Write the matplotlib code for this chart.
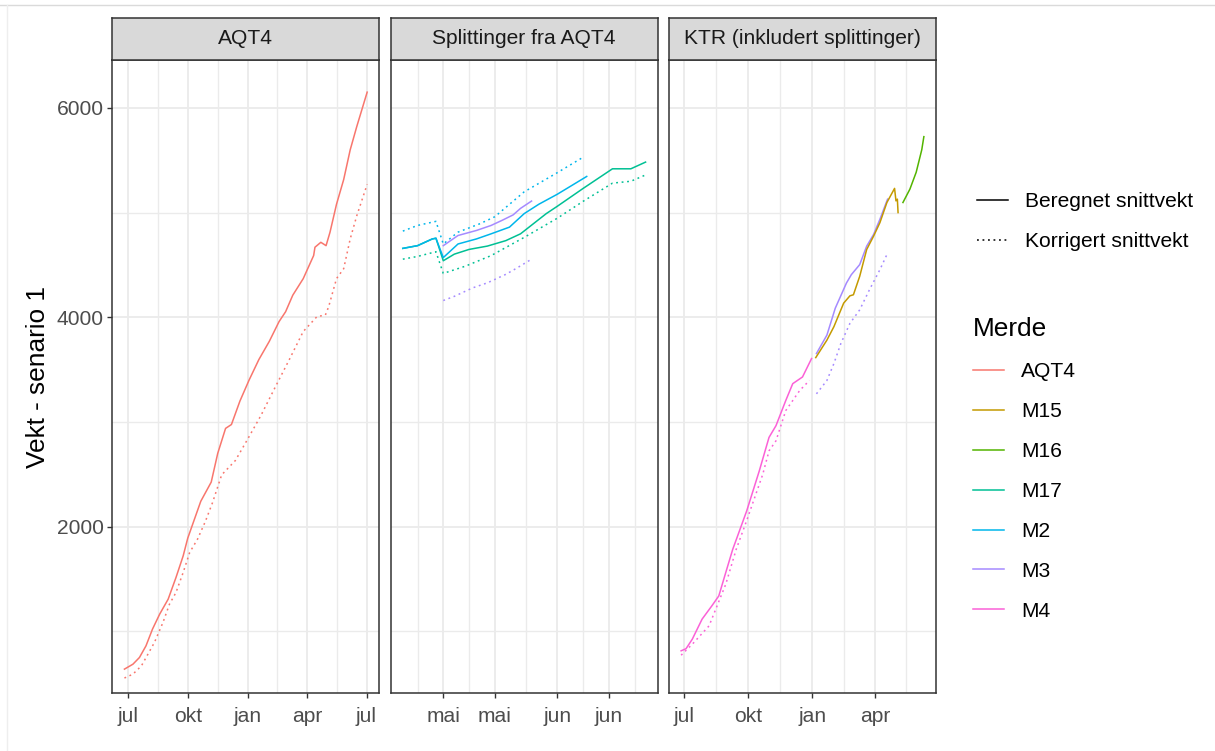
"""
Vekt per merde - facet chart (AQT4 / splittinger / KTR)
"""

import matplotlib
matplotlib.use('Agg')  # Non-interactive backend
import matplotlib.pyplot as plt
import matplotlib.dates as mdates
from matplotlib.lines import Line2D
from matplotlib.ticker import FixedLocator
import pandas as pd

plt.rcParams['font.family'] = ['Liberation Sans', 'DejaVu Sans']

# ---------------- data ----------------
# Panel 1: AQT4
aqt4_ber_dates = ['2019-06-26', '2019-07-09', '2019-07-19', '2019-07-29', '2019-08-08', '2019-08-19',
                  '2019-09-01', '2019-09-13', '2019-09-24', '2019-10-01', '2019-10-21', '2019-11-06',
                  '2019-11-16', '2019-11-28', '2019-12-07', '2019-12-20', '2020-01-03', '2020-01-18',
                  '2020-02-03', '2020-02-18', '2020-02-28', '2020-03-10', '2020-03-26', '2020-04-11',
                  '2020-04-13', '2020-04-22', '2020-04-30', '2020-05-06', '2020-05-16', '2020-05-27',
                  '2020-06-06', '2020-06-16', '2020-07-02']
aqt4_ber_vals = [640, 687, 751, 862, 1022, 1165, 1308, 1515, 1721, 1890, 2243, 2426,
                 2701, 2939, 2976, 3200, 3400, 3596, 3770, 3959, 4053, 4211, 4369, 4590,
                 4669, 4716, 4684, 4811, 5079, 5315, 5599, 5820, 6150]
aqt4_kor_dates = ['2019-06-26', '2019-07-09', '2019-07-22', '2019-08-01', '2019-08-11', '2019-08-24',
                  '2019-09-03', '2019-09-13', '2019-09-24', '2019-10-04', '2019-10-16', '2019-10-28',
                  '2019-11-08', '2019-11-22', '2019-12-13', '2020-01-01', '2020-01-21', '2020-02-13',
                  '2020-03-05', '2020-03-26', '2020-04-16', '2020-04-29', '2020-05-04', '2020-05-16',
                  '2020-05-27', '2020-06-06', '2020-06-16', '2020-07-02']
aqt4_kor_vals = [555, 592, 671, 783, 895, 1085, 1260, 1372, 1563, 1754, 1881, 2050,
                 2230, 2495, 2632, 2838, 3060, 3344, 3600, 3864, 4006, 4022, 4101, 4369,
                 4464, 4748, 4968, 5270]

# Panel 2: splittinger fra AQT4
m2_ber_dates = ['2020-04-20', '2020-04-24', '2020-04-28', '2020-04-29', '2020-05-01', '2020-05-05',
                '2020-05-10', '2020-05-14', '2020-05-19', '2020-05-23', '2020-05-27', '2020-06-01',
                '2020-06-05', '2020-06-09']
m2_ber_vals = [4658, 4684, 4748, 4755, 4570, 4700, 4748, 4797, 4861, 4990, 5080, 5175, 5260, 5345]
m2_kor_dates = ['2020-04-20', '2020-04-24', '2020-04-29', '2020-05-01', '2020-05-05', '2020-05-11',
                '2020-05-15', '2020-05-23', '2020-06-01', '2020-06-08']
m2_kor_vals = [4823, 4877, 4916, 4700, 4813, 4894, 4960, 5198, 5381, 5528]

m17_ber_dates = ['2020-04-20', '2020-04-24', '2020-04-28', '2020-04-29', '2020-05-01', '2020-05-04',
                 '2020-05-08', '2020-05-13', '2020-05-18', '2020-05-22', '2020-05-29', '2020-06-01',
                 '2020-06-08', '2020-06-16', '2020-06-21', '2020-06-25']
m17_ber_vals = [4658, 4684, 4748, 4755, 4540, 4603, 4648, 4680, 4732, 4797, 4990, 5060,
                5230, 5418, 5418, 5482]
m17_kor_dates = ['2020-04-20', '2020-04-24', '2020-04-29', '2020-05-01', '2020-05-07', '2020-05-14',
                 '2020-05-23', '2020-06-01', '2020-06-08', '2020-06-16', '2020-06-21', '2020-06-25']
m17_kor_vals = [4555, 4581, 4626, 4419, 4488, 4589, 4763, 4946, 5107, 5281, 5299, 5359]

m3s_ber_dates = ['2020-05-01', '2020-05-05', '2020-05-10', '2020-05-14', '2020-05-17', '2020-05-20',
                 '2020-05-22', '2020-05-25']
m3s_ber_vals = [4684, 4781, 4829, 4877, 4926, 4978, 5040, 5110]
m3s_kor_dates = ['2020-05-01', '2020-05-04', '2020-05-09', '2020-05-13', '2020-05-18', '2020-05-21',
                 '2020-05-25']
m3s_kor_vals = [4160, 4200, 4281, 4329, 4410, 4470, 4555]

# Panel 3: KTR (inkludert splittinger)
m4_ber_dates = ['2020-06-27', '2020-07-04', '2020-07-13', '2020-07-27', '2020-08-10', '2020-08-20',
                '2020-08-30', '2020-09-09', '2020-09-14', '2020-09-29', '2020-10-17', '2020-10-31',
                '2020-11-10', '2020-11-24', '2020-12-04', '2020-12-18', '2020-12-31']
m4_ber_vals = [815, 835, 926, 1117, 1244, 1339, 1563, 1785, 1876, 2151, 2532, 2853,
               2965, 3205, 3366, 3430, 3606]
m4_kor_dates = ['2020-06-27', '2020-07-13', '2020-08-06', '2020-08-30', '2020-09-14', '2020-09-29',
                '2020-10-22', '2020-10-31', '2020-11-10', '2020-11-24', '2020-12-04', '2020-12-14',
                '2020-12-28']
m4_kor_vals = [773, 878, 1053, 1451, 1785, 2059, 2500, 2724, 2821, 3109, 3205, 3301, 3397]

m3k_ber_dates = ['2021-01-07', '2021-01-22', '2021-02-03', '2021-02-19', '2021-02-26', '2021-03-10',
                 '2021-03-20', '2021-03-30', '2021-04-08', '2021-04-18', '2021-04-19']
m3k_ber_vals = [3654, 3830, 4087, 4327, 4407, 4503, 4679, 4792, 4936, 5112, 5128]
m3k_kor_dates = ['2021-01-07', '2021-01-22', '2021-02-01', '2021-02-11', '2021-02-24', '2021-03-10',
                 '2021-03-24', '2021-04-08', '2021-04-18']
m3k_kor_vals = [3269, 3397, 3558, 3750, 3942, 4071, 4263, 4455, 4599]

m15_ber_dates = ['2021-01-06', '2021-01-22', '2021-02-01', '2021-02-15', '2021-02-24', '2021-03-01',
                 '2021-03-10', '2021-03-20', '2021-03-30', '2021-04-08', '2021-04-18', '2021-04-29',
                 '2021-05-01', '2021-05-03', '2021-05-04']
m15_ber_vals = [3615, 3782, 3910, 4135, 4205, 4215, 4391, 4647, 4776, 4904, 5096, 5231,
                5112, 5128, 5000]

m16_ber_dates = ['2021-05-11', '2021-05-21', '2021-05-30', '2021-06-07', '2021-06-10']
m16_ber_vals = [5096, 5224, 5385, 5600, 5725]

merder = ['AQT4', 'M15', 'M16', 'M17', 'M2', 'M3', 'M4']
merde_colors = ['#F8766D', '#C49A00', '#53B400', '#00C094', '#00B6EB', '#A58AFF', '#FB61D7']
color_of = dict(zip(merder, merde_colors))

panel_titles = ['AQT4', 'Splittinger fra AQT4', 'KTR (inkludert splittinger)']
panel_breaks = [
    ['2019-07-01', '2019-10-01', '2020-01-01', '2020-04-01', '2020-07-01'],
    ['2020-05-01', '2020-05-15', '2020-06-01', '2020-06-15'],
    ['2020-07-01', '2020-10-01', '2021-01-01', '2021-04-01'],
]
y_breaks = [2000, 4000, 6000]
y_minor = [1000, 3000, 5000]
month_no = ['jan', 'feb', 'mar', 'apr', 'mai', 'jun', 'jul', 'aug', 'sep', 'okt', 'nov', 'des']

# (merde, dates, values, linetype)
panel_series = [
    [('AQT4', aqt4_ber_dates, aqt4_ber_vals, 'ber'),
     ('AQT4', aqt4_kor_dates, aqt4_kor_vals, 'kor')],
    [('M17', m17_ber_dates, m17_ber_vals, 'ber'),
     ('M17', m17_kor_dates, m17_kor_vals, 'kor'),
     ('M2', m2_ber_dates, m2_ber_vals, 'ber'),
     ('M2', m2_kor_dates, m2_kor_vals, 'kor'),
     ('M3', m3s_ber_dates, m3s_ber_vals, 'ber'),
     ('M3', m3s_kor_dates, m3s_kor_vals, 'kor')],
    [('M4', m4_ber_dates, m4_ber_vals, 'ber'),
     ('M4', m4_kor_dates, m4_kor_vals, 'kor'),
     ('M3', m3k_ber_dates, m3k_ber_vals, 'ber'),
     ('M3', m3k_kor_dates, m3k_kor_vals, 'kor'),
     ('M15', m15_ber_dates, m15_ber_vals, 'ber'),
     ('M16', m16_ber_dates, m16_ber_vals, 'ber')],
]

# ---------------- layout ----------------
W, H = 1215, 751
LW = 1.1
DOTTED = (0, (1.2, 2.4))
GRID_COL = '#EBEBEB'
DARK = '#333333'


def frac(left, top, right, bottom):
    return [left / W, 1 - bottom / H, (right - left) / W, (bottom - top) / H]


fig = plt.figure(figsize=(W / 100, H / 100), dpi=100)

panel_left = [112.3, 390.7, 669.0]
panel_w = 267.0

for i, (title, series, breaks) in enumerate(zip(panel_titles, panel_series, panel_breaks)):
    l = panel_left[i]
    ax = fig.add_axes(frac(l, 60, l + panel_w, 693))

    for merde, dates, vals, lt in series:
        ax.plot(pd.to_datetime(dates), vals, color=color_of[merde], linewidth=LW,
                linestyle='-' if lt == 'ber' else DOTTED, zorder=3)

    # x range: ggplot default 5% expansion
    all_dates = pd.to_datetime([d for s in series for d in s[1]])
    dmin, dmax = all_dates.min(), all_dates.max()
    pad = (dmax - dmin) * 0.05
    ax.set_xlim(mdates.date2num(dmin - pad), mdates.date2num(dmax + pad))
    ax.set_ylim(412, 6457)

    major = mdates.date2num(pd.to_datetime(breaks))
    steps = [b - a for a, b in zip(major[:-1], major[1:])]
    minor = [major[0] - steps[0] / 2] + [a + s / 2 for a, s in zip(major[:-1], steps)] + \
            [major[-1] + steps[-1] / 2]
    ax.xaxis.set_major_locator(FixedLocator(major))
    ax.xaxis.set_minor_locator(FixedLocator(minor))
    ax.set_xticklabels([month_no[d.month - 1] for d in pd.to_datetime(breaks)])

    ax.yaxis.set_major_locator(FixedLocator(y_breaks))
    ax.yaxis.set_minor_locator(FixedLocator(y_minor))
    ax.set_yticklabels([str(v) for v in y_breaks])

    ax.grid(True, which='major', color=GRID_COL, linewidth=1.3, zorder=0)
    ax.grid(True, which='minor', color=GRID_COL, linewidth=1.0, zorder=0)
    ax.set_axisbelow(True)

    ax.tick_params(which='major', length=3.5, width=1.0, color=DARK, labelsize=15.1,
                   labelcolor='#4D4D4D')
    ax.tick_params(axis='x', which='major', pad=6.5)
    ax.tick_params(axis='y', which='major', pad=2.5)
    ax.tick_params(which='minor', length=0)
    if i > 0:
        ax.tick_params(axis='y', left=False, labelleft=False)
    else:
        ax.set_ylabel('Vekt - senario 1', fontsize=18.9, color='black', labelpad=5)

    for sp in ax.spines.values():
        sp.set_color(DARK)
        sp.set_linewidth(1.1)

    # facet strip
    sax = fig.add_axes(frac(l, 18, l + panel_w, 60))
    sax.set_facecolor('#D9D9D9')
    sax.set_xticks([])
    sax.set_yticks([])
    for sp in sax.spines.values():
        sp.set_color(DARK)
        sp.set_linewidth(1.1)
    sax.text(0.5, 0.5, title, ha='center', va='center', fontsize=15.1, color='#1A1A1A',
             transform=sax.transAxes)

# ---------------- legends ----------------
lt_handles = [Line2D([], [], color='black', linewidth=LW, linestyle='-'),
              Line2D([], [], color='black', linewidth=LW, linestyle=DOTTED)]
leg1 = fig.legend(lt_handles, ['Beregnet snittvekt', 'Korrigert snittvekt'],
                  loc='upper left', bbox_to_anchor=(977 / W, 1 - 192 / H),
                  frameon=False, fontsize=15.1, handlelength=1.48, handletextpad=0.8,
                  labelspacing=1.0, borderpad=0, borderaxespad=0)

col_handles = [Line2D([], [], color=c, linewidth=LW) for c in merde_colors]
leg2 = fig.legend(col_handles, merder, title='Merde', title_fontsize=18.9,
                  loc='upper left', bbox_to_anchor=(973 / W, 1 - 317 / H),
                  frameon=False, fontsize=15.1, handlelength=1.48, handletextpad=0.8,
                  labelspacing=1.0, borderpad=0, borderaxespad=0, alignment='left')

# screenshot frame lines
fig.add_artist(Line2D([0, 1], [1 - 5 / H, 1 - 5 / H], color='#DADADA', linewidth=1.0))
fig.add_artist(Line2D([7 / W, 7 / W], [0, 1 - 5 / H], color='#EEEEEE', linewidth=1.0))

fig.savefig('out.png', dpi=100)
plt.close(fig)
